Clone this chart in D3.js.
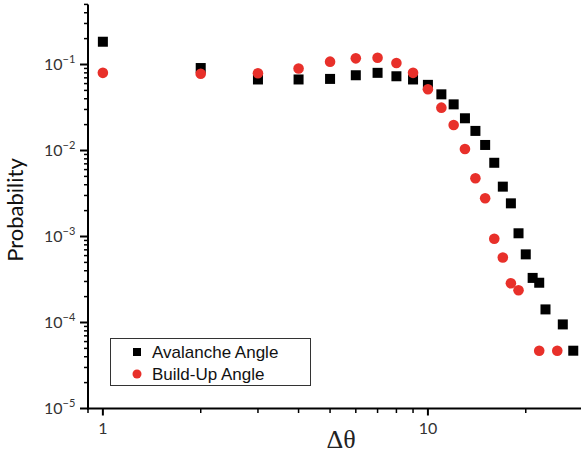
<!DOCTYPE html>
<head>
  <meta charset="utf-8">
  <script src="https://d3js.org/d3.v7.min.js"></script>
  <style>
    body { margin: 0; background: #fff; }
    text { font-family: Lato, sans-serif; }
  </style>
</head>
<body>
  <svg width="581" height="457"></svg>
  <script>
    // values
    const avalancheX = [1, 2, 3, 4, 5, 6, 7, 8, 9, 10, 11, 12, 13, 14, 15, 16, 17, 18, 19, 20, 21, 22, 23, 26, 28];
    const avalancheY = [0.184, 0.091, 0.067, 0.067, 0.068, 0.075, 0.080, 0.073, 0.067, 0.058, 0.045, 0.0344,
      0.0237, 0.0169, 0.0116, 0.0072, 0.0038, 0.00243, 0.00109, 0.00062, 0.00033, 0.00029, 0.000142, 0.000095, 0.000047];
    const buildUpX = [1, 2, 3, 4, 5, 6, 7, 8, 9, 10, 11, 12, 13, 14, 15, 16, 17, 18, 19, 22, 25];
    const buildUpY = [0.080, 0.078, 0.079, 0.090, 0.108, 0.118, 0.120, 0.104, 0.080, 0.0515, 0.0315, 0.0198,
      0.0104, 0.00475, 0.00278, 0.00094, 0.00057, 0.000286, 0.000237, 0.000047, 0.000047];

    const xMajor = [1, 10];
    const xMinor = [0.9, 2, 3, 4, 5, 6, 7, 8, 9, 20, 30];
    const yMajor = [1e-1, 1e-2, 1e-3, 1e-4, 1e-5];
    const yExponents = ["\u22121", "\u22122", "\u22123", "\u22124", "\u22125"];
    const seriesNames = ["Avalanche Angle", "Build-Up Angle"];

    const svg = d3.select("svg");

    const x = d3.scaleLog().domain([0.9, 30]).range([88, 583]);
    const y = d3.scaleLog().domain([1e-5, 0.5]).range([408.5, 4.4]);

    // minor y ticks 2..9 per decade
    const yMinor = [];
    yMajor.forEach(m => {
      for (let k = 2; k <= 9; k++) {
        const v = m * k;
        if (v <= 0.5) yMinor.push(v);
      }
    });

    const axes = svg.append("g").attr("stroke", "#000");

    // y axis
    axes.append("line")
      .attr("x1", 88).attr("x2", 88)
      .attr("y1", y(0.5)).attr("y2", 409.5)
      .attr("stroke-width", 2);
    axes.selectAll(".ymaj").data(yMajor).join("line")
      .attr("x1", 80).attr("x2", 88)
      .attr("y1", d => y(d)).attr("y2", d => y(d))
      .attr("stroke-width", 2);
    axes.selectAll(".ymin").data(yMinor).join("line")
      .attr("x1", 84).attr("x2", 88)
      .attr("y1", d => y(d)).attr("y2", d => y(d))
      .attr("stroke-width", 1.5);

    // x axis
    axes.append("line")
      .attr("x1", 87).attr("x2", 581)
      .attr("y1", 408.5).attr("y2", 408.5)
      .attr("stroke-width", 2);
    axes.selectAll(".xmaj").data(xMajor).join("line")
      .attr("x1", d => x(d)).attr("x2", d => x(d))
      .attr("y1", 408).attr("y2", 415.5)
      .attr("stroke-width", 2);
    axes.selectAll(".xmin").data(xMinor).join("line")
      .attr("x1", d => x(d)).attr("x2", d => x(d))
      .attr("y1", 408).attr("y2", 413)
      .attr("stroke-width", 1.5);

    // y tick labels
    const yl = svg.selectAll(".ylab").data(yMajor).join("text")
      .attr("x", 44).attr("y", d => y(d) + 5)
      .attr("font-size", 16).attr("fill", "#333");
    yl.append("tspan").text("10");
    yl.append("tspan").attr("dy", -7).attr("font-size", 11).text((d, i) => yExponents[i]);

    // x tick labels
    svg.selectAll(".xlab").data(xMajor).join("text")
      .attr("x", d => x(d)).attr("y", 434)
      .attr("text-anchor", "middle")
      .attr("font-size", 16).attr("fill", "#333")
      .text(d => d);

    // axis titles
    svg.append("text")
      .attr("transform", "translate(23,210) rotate(-90)")
      .attr("text-anchor", "middle")
      .attr("font-size", 22).attr("fill", "#111")
      .text("Probability");
    svg.append("text")
      .attr("x", 341).attr("y", 448)
      .attr("text-anchor", "middle")
      .style("font-family", "'Liberation Serif', 'DejaVu Serif', serif")
      .attr("font-size", 26).attr("fill", "#222")
      .text("\u0394\u03b8");

    // data
    const av = avalancheX.map((d, i) => [d, avalancheY[i]]);
    const bu = buildUpX.map((d, i) => [d, buildUpY[i]]);
    const sq = 10;
    svg.append("g").selectAll("rect").data(av).join("rect")
      .attr("x", d => x(d[0]) - sq / 2).attr("y", d => y(d[1]) - sq / 2)
      .attr("width", sq).attr("height", sq)
      .attr("fill", "#000");
    svg.append("g").selectAll("circle").data(bu).join("circle")
      .attr("cx", d => x(d[0])).attr("cy", d => y(d[1]))
      .attr("r", 5.3)
      .attr("fill", "#e8302a");

    // legend
    const lg = svg.append("g");
    lg.append("rect")
      .attr("x", 110.5).attr("y", 338.5).attr("width", 200).attr("height", 47)
      .attr("fill", "#fff").attr("stroke", "#333").attr("stroke-width", 1);
    lg.append("rect").attr("x", 133).attr("y", 348).attr("width", 8).attr("height", 8).attr("fill", "#000");
    lg.append("circle").attr("cx", 137).attr("cy", 374).attr("r", 4.5).attr("fill", "#e8302a");
    lg.selectAll("text").data(seriesNames).join("text")
      .attr("x", 152).attr("y", (d, i) => 358 + i * 22)
      .style("font-family", "'Liberation Sans', Arial, sans-serif")
      .attr("font-size", 17).attr("fill", "#111")
      .text(d => d);
  </script>
</body>
